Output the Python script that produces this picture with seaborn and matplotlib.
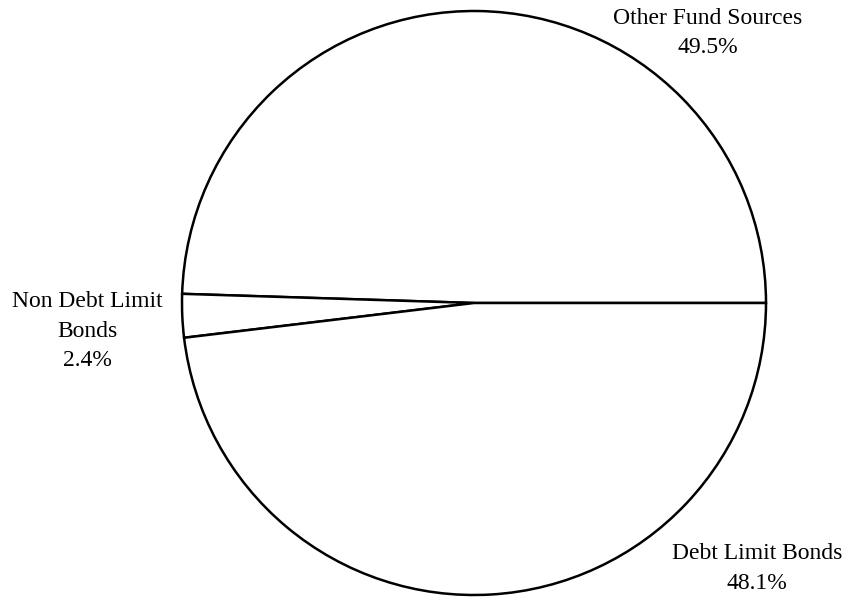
import matplotlib
matplotlib.use("Agg")
import matplotlib.pyplot as plt
import seaborn as sns

sns.set_theme(style="white")
plt.rcParams['font.family'] = ['Liberation Serif', 'DejaVu Serif']

categories = ["Other Fund Sources", "Non Debt Limit\nBonds", "Debt Limit Bonds"]
values = [49.5, 2.4, 48.1]
pct_labels = ["49.5%", "2.4%", "48.1%"]

fig = plt.figure(figsize=(8.49, 5.98), dpi=100)
ax = fig.add_axes([0, 0, 1, 1])
R = 292.0
cx, cy = 474.0, 303.0

wedges, _ = ax.pie(values, startangle=0, counterclock=True, colors=['white'] * 3,
                   wedgeprops=dict(edgecolor='black', linewidth=1.8), radius=1.0,
                   center=(0, 0), frame=True)
ax.set_xlim(-cx / R, (849 - cx) / R)
ax.set_ylim(-(598 - cy) / R, cy / R)
ax.set_aspect('equal', adjustable='box')
ax.axis('off')

label_pos = [(0.801, 0.925), (-1.325, -0.096), (0.969, -0.908)]
for cat, pct, (x, y) in zip(categories, pct_labels, label_pos):
    ax.text(x, y, f"{cat}\n{pct}", ha='center', va='center', fontsize=17,
            color='black', linespacing=1.55)

fig.savefig("out.png", dpi=100)
